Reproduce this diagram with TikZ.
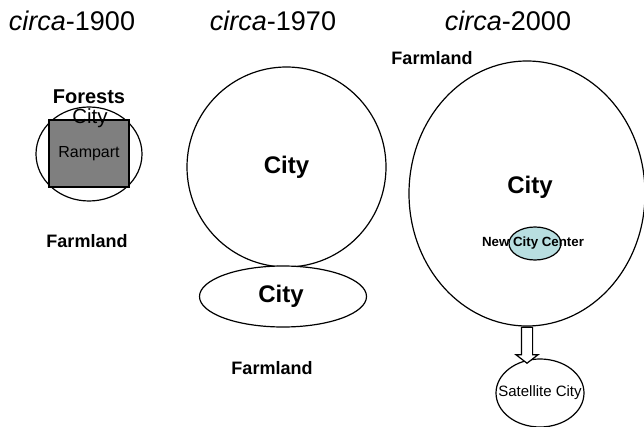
\documentclass[tikz,border=0pt]{standalone}
\usepackage{fontspec}
\setmainfont{Liberation Sans}
\usetikzlibrary{shapes.geometric,shapes.arrows}
\definecolor{rampgray}{HTML}{7F7F7F}
\definecolor{centercyan}{HTML}{B8DEE0}
\begin{document}
\begin{tikzpicture}[x=1pt,y=1pt,
  outline/.style={draw=black,line width=1.2pt},
  area/.style={ellipse,outline,fill=white,inner sep=0pt},
  title/.style={font=\fontsize{27}{30}\selectfont,inner sep=0pt},
  label/.style={font=\bfseries\fontsize{18}{20}\selectfont,inner sep=0pt},
  bigcity/.style={font=\bfseries\fontsize{24}{26}\selectfont,inner sep=0pt}]
\useasboundingbox[fill=white] (0,0) rectangle (644,-427);
% titles
\node[title] (t1900) at (72,-21) {\textit{circa}-1900};
\node[title] (t1970) at (273,-21) {\textit{circa}-1970};
\node[title] (t2000) at (508,-21) {\textit{circa}-2000};
% 1900
\node[area,minimum width=106pt,minimum height=94pt] (city1900) at (89,-154) {};
\node[rectangle,outline,fill=rampgray,minimum width=80pt,minimum height=67pt,inner sep=0pt,
  font=\fontsize{16}{18}\selectfont] (rampart) at (89,-153.5) {Rampart};
\node[font=\fontsize{20.5}{22}\selectfont,inner sep=0pt] (citytxt1900) at (90,-118) {City};
\node[label,font=\bfseries\fontsize{20}{22}\selectfont] (forests) at (89,-97) {Forests};
\node[label] (farm1900) at (87,-241) {Farmland};
% 1970
\node[area,minimum width=199pt,minimum height=200pt] (city1970) at (286.5,-167) {};
\node[bigcity] at (city1970.center) (citytxt1970) {City};
\node[area,minimum width=167pt,minimum height=61pt] (sub1970) at (283,-296.5) {};
\node[bigcity] at (281,-296) (subtxt1970) {City};
\node[label] (farm1970) at (272,-368) {Farmland};
% 2000
\node[label] (farm2000) at (432,-58) {Farmland};
\node[area,minimum width=236pt,minimum height=265pt] (city2000) at (527,-193.5) {};
\node[bigcity] (citytxt2000) at (530,-187) {City};
\node[ellipse,outline,fill=centercyan,minimum width=52pt,minimum height=33pt,inner sep=0pt] (center2000) at (535,-243.5) {};
\node[font=\bfseries\fontsize{13.3}{15}\selectfont,inner sep=0pt] (centertxt) at (533,-243) {New City Center};
\node[area,minimum width=88pt,minimum height=68pt] (sat) at (540,-393) {};
\node[font=\fontsize{15}{17}\selectfont,inner sep=0pt] (sattxt) at (sat.center) {Satellite City};
\node[single arrow,outline,fill=white,rotate=-90,minimum height=36pt,inner sep=5pt,
  single arrow head extend=5.5pt,single arrow tip angle=105,anchor=tail] (grow) at (city2000.south) {};
\end{tikzpicture}
\end{document}
